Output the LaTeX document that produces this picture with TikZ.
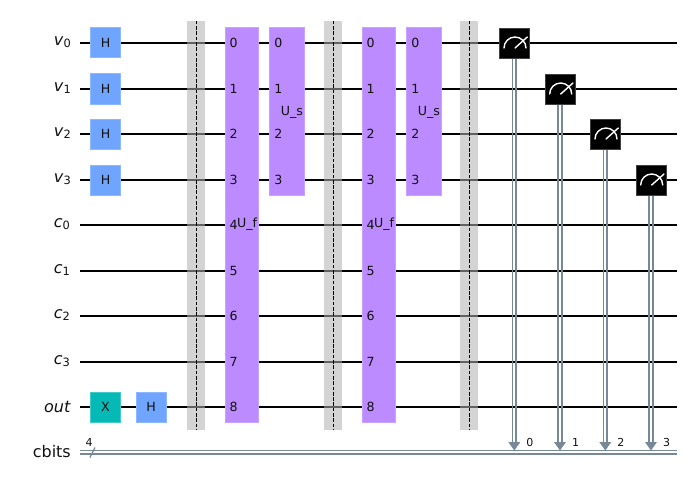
\documentclass[tikz,border=0pt]{standalone}
\usepackage{fontspec}
\setmainfont{DejaVu Sans}
\usetikzlibrary{arrows.meta}
\definecolor{hblue}{HTML}{6FA4FF}
\definecolor{hedge}{HTML}{8DB8FF}
\definecolor{xteal}{HTML}{05BAB6}
\definecolor{xedge}{HTML}{40CBC8}
\definecolor{upurple}{HTML}{BB8BFF}
\definecolor{uedge}{HTML}{C8A2FF}
\definecolor{cwire}{HTML}{778899}
\definecolor{inkdark}{HTML}{111111}
\tikzset{
  x=1pt,y=-1pt,
  wire/.style={draw=black,line width=2.0pt},
  cw/.style={draw=cwire,line width=1.8pt},
  gatebox/.style={minimum width=30pt,minimum height=30pt,inner sep=0pt,line width=1pt,text=inkdark,font=\fontsize{12.6}{14}\selectfont},
  hgate/.style={gatebox,draw=hedge,fill=hblue},
  xgate/.style={gatebox,draw=xedge,fill=xteal},
  mgate/.style={gatebox,draw=black!75,fill=black,line width=.8pt},
  ubox/.style={draw=uedge,fill=upurple,line width=1pt},
  barrierbox/.style={fill=black!30,fill opacity=.55,draw=none},
  barrierline/.style={draw=black,line width=1pt,dash pattern=on 3.7pt off 1.6pt},
  wlabel/.style={anchor=east,inner sep=0pt,text=inkdark,font=\fontsize{16}{18}\selectfont},
  ulabel/.style={anchor=center,inner sep=0pt,text=inkdark,font=\fontsize{12.6}{14}\selectfont},
  slabel/.style={anchor=center,inner sep=0pt,text=inkdark,font=\fontsize{11}{12}\selectfont},
}
\newcommand{\wl}[2]{\textit{#1}\raisebox{-2.2pt}{\fontsize{11.4}{12}\selectfont #2}}
\begin{document}
\begin{tikzpicture}
\useasboundingbox (0,0) rectangle (688,487);
\fill[white] (0,0) rectangle (688,487);
% wire ends
\foreach \n/\y in {v0/43,v1/89,v2/134,v3/180,c0/225,c1/271,c2/316,c3/362,out/407}{
  \coordinate (\n L) at (80,\y);
  \coordinate (\n R) at (676.5,\y);
  \draw[wire] (\n L) -- (\n R);
}
\coordinate (cbL) at (80,452.2);
\coordinate (cbR) at (676.5,452.2);
\draw[cw] ([yshift=-1.7pt]cbL) -- ([yshift=-1.7pt]cbR);
\draw[cw] ([yshift=1.7pt]cbL) -- ([yshift=1.7pt]cbR);
% wire labels
\node[wlabel] (lv0) at (71,42) {\wl{v}{0}};
\node[wlabel] (lv1) at (71,88) {\wl{v}{1}};
\node[wlabel] (lv2) at (71,133) {\wl{v}{2}};
\node[wlabel] (lv3) at (71,179) {\wl{v}{3}};
\node[wlabel] (lc0) at (70,224) {\wl{c}{0}};
\node[wlabel] (lc1) at (70,270) {\wl{c}{1}};
\node[wlabel] (lc2) at (70,315) {\wl{c}{2}};
\node[wlabel] (lc3) at (70,361) {\wl{c}{3}};
\node[wlabel] (lout) at (71,407) {\textit{out}};
\node[wlabel] (lcb) at (71,452) {cbits};
% register slash
\draw[draw=cwire,line width=1.3pt] (90,457.5) -- (95,447.5);
\node[slabel] (n4) at (89,442) {4};
% first gates
\node[hgate] (h0) at (105.5,43) {H};
\node[hgate] (h1) at (105.5,89) {H};
\node[hgate] (h2) at (105.5,134) {H};
\node[hgate] (h3) at (105.5,180) {H};
\node[xgate] (x4) at (105.5,407) {X};
\node[hgate] (h4) at (151,407) {H};
% barriers
\foreach \n/\x in {b1/196,b2/333,b3/469}{
  \node[barrierbox,minimum width=18pt,minimum height=409pt,inner sep=0pt] (\n) at (\x,225.5) {};
  \draw[barrierline] (\n.north) -- (\n.south);
}
% multi-qubit gates
\newcommand{\ugate}[2]{%
  \node[ubox,minimum width=33pt,minimum height=394pt,inner sep=0pt] (uf#2) at (#1+16.5,225) {};
  \node[ubox,minimum width=35pt,minimum height=167pt,inner sep=0pt] (us#2) at (#1+61.5,111.5) {};
  \foreach \t/\y in {0/43,1/89,2/134,3/180,4/225,5/271,6/316,7/362,8/407}{
    \node[ulabel] (uf#2q\t) at (#1+8.7,\y) {\t};
  }
  \node[ulabel,anchor=west] (uf#2n) at (#1+12,224.5) {U\_f};
  \foreach \t/\y in {0/43,1/89,2/134,3/180}{
    \node[ulabel] (us#2q\t) at (#1+53.5,\y) {\t};
  }
  \node[ulabel] (us#2n) at (#1+67,112) {U\_s};
}
\ugate{225}{a}
\ugate{362}{b}
% measurement
\foreach \n/\x/\y/\k in {m0/514.3/43/0,m1/560/89/1,m2/605.3/134/2,m3/651/180/3}{
  \coordinate (\n T) at (\x,\y+15);
  \coordinate (\n B) at (\x,445);
  \draw[draw=cwire,line width=1.7pt] ([xshift=-1.7pt]\n T) -- ([xshift=-1.7pt]\n B);
  \draw[draw=cwire,line width=1.7pt] ([xshift=1.7pt]\n T) -- ([xshift=1.7pt]\n B);
  \fill[cwire] (\x-6,442) -- (\x+6,442) -- (\x,450.5) -- cycle;
  \node[mgate] (\n) at (\x,\y) {};
  \draw[white,line width=1.4pt,line cap=round] (\x-10.3,\y+5) arc[start angle=180,end angle=0,x radius=11,y radius=-11];
  \draw[white,line width=1.4pt,line cap=round] (\x+.7,\y+5) -- (\x+13,\y-6);
  \node[slabel] (\n k) at (\x+15.5,442) {\k};
}
\end{tikzpicture}
\end{document}
